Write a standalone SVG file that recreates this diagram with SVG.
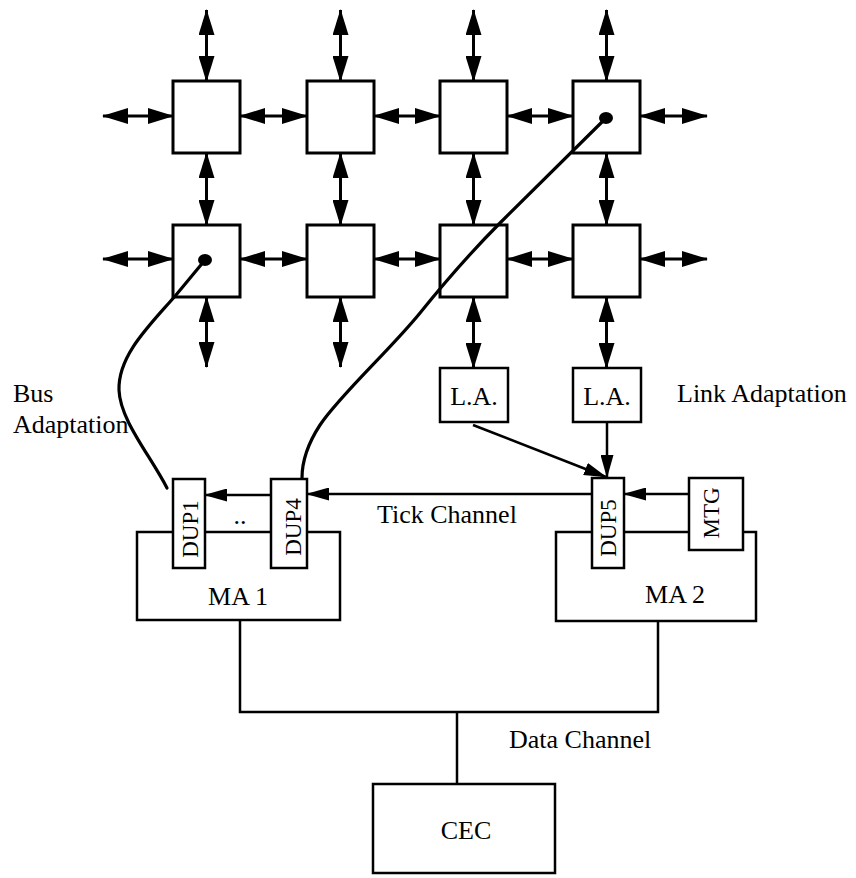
<svg xmlns="http://www.w3.org/2000/svg" width="856" height="878" viewBox="0 0 856 878">
  <style>
    .cell { fill: #fff; stroke: #000; stroke-width: 3; }
    .box { fill: #fff; stroke: #000; stroke-width: 2.5; }
    .link { fill: none; stroke: #000; stroke-width: 3; marker-start: url(#head); marker-end: url(#head); }
    .wire { fill: none; stroke: #000; stroke-width: 2.5; }
    .bus { fill: none; stroke: #000; stroke-width: 3.2; stroke-linecap: round; stroke-linejoin: round; }
    text { font-family: "Liberation Serif", "Times New Roman", serif; fill: #000; }
    .lbl { font-size: 26px; }
    .dup { font-size: 23px; text-anchor: middle; }
    .mid { text-anchor: middle; }
  </style>
  <defs>
    <marker id="head" markerUnits="userSpaceOnUse" markerWidth="26" markerHeight="16" refX="25" refY="8" orient="auto-start-reverse">
      <path d="M0,0 L26,8 L0,16 Z" fill="#000"/>
    </marker>
    <marker id="tip" markerUnits="userSpaceOnUse" markerWidth="23" markerHeight="13" refX="22" refY="6.5" orient="auto">
      <path d="M0,0 L23,6.5 L0,13 Z" fill="#000"/>
    </marker>
  </defs>

  <!-- links of the processor grid -->
  <g id="connectors">
    <!-- vertical links -->
    <line class="link" x1="206.5" y1="10" x2="206.5" y2="81"/>
    <line class="link" x1="340.5" y1="10" x2="340.5" y2="81"/>
    <line class="link" x1="473.5" y1="10" x2="473.5" y2="81"/>
    <line class="link" x1="606.5" y1="10" x2="606.5" y2="81"/>
    <line class="link" x1="206.5" y1="153" x2="206.5" y2="225"/>
    <line class="link" x1="340.5" y1="153" x2="340.5" y2="225"/>
    <line class="link" x1="473.5" y1="153" x2="473.5" y2="225"/>
    <line class="link" x1="606.5" y1="153" x2="606.5" y2="225"/>
    <line class="link" x1="206.5" y1="297" x2="206.5" y2="367"/>
    <line class="link" x1="340.5" y1="297" x2="340.5" y2="367"/>
    <line class="link" x1="473.5" y1="297" x2="473.5" y2="368"/>
    <line class="link" x1="606.5" y1="297" x2="606.5" y2="368"/>
    <!-- horizontal links, row 1 -->
    <line class="link" x1="103" y1="116" x2="173" y2="116"/>
    <line class="link" x1="240" y1="116" x2="307" y2="116"/>
    <line class="link" x1="374" y1="116" x2="440" y2="116"/>
    <line class="link" x1="507" y1="116" x2="573" y2="116"/>
    <line class="link" x1="640" y1="116" x2="707" y2="116"/>
    <!-- horizontal links, row 2 -->
    <line class="link" x1="103" y1="259" x2="173" y2="259"/>
    <line class="link" x1="240" y1="259" x2="307" y2="259"/>
    <line class="link" x1="374" y1="259" x2="440" y2="259"/>
    <line class="link" x1="507" y1="259" x2="573" y2="259"/>
    <line class="link" x1="640" y1="259" x2="707" y2="259"/>

    <!-- link adaptation into DUP5 -->
    <line class="wire" x1="473" y1="425" x2="606" y2="477" stroke-width="3" marker-end="url(#tip)"/>
    <line class="wire" x1="607" y1="422" x2="607" y2="477" stroke-width="3" marker-end="url(#tip)"/>

    <!-- tick channel -->
    <line class="wire" x1="689" y1="494" x2="624" y2="494" marker-end="url(#tip)"/>
    <line class="wire" x1="592" y1="494" x2="307" y2="494" marker-end="url(#tip)"/>
    <line class="wire" x1="271" y1="495" x2="205" y2="495" marker-end="url(#tip)"/>

    <!-- data channel -->
    <polyline class="wire" points="240,620 240,712 658,712 658,621"/>
    <line class="wire" x1="457" y1="712" x2="457" y2="784"/>
  </g>

  <!-- processor grid -->
  <g id="p11"><rect class="cell" x="173" y="81" width="67" height="72"/></g>
  <g id="p12"><rect class="cell" x="307" y="81" width="67" height="72"/></g>
  <g id="p13"><rect class="cell" x="440" y="81" width="67" height="72"/></g>
  <g id="p14"><rect class="cell" x="573" y="81" width="67" height="72"/></g>
  <g id="p21"><rect class="cell" x="173" y="225" width="67" height="72"/></g>
  <g id="p22"><rect class="cell" x="307" y="225" width="67" height="72"/></g>
  <g id="p23"><rect class="cell" x="440" y="225" width="67" height="72"/></g>
  <g id="p24"><rect class="cell" x="573" y="225" width="67" height="72"/></g>

  <!-- link adaptation units -->
  <g id="la1">
    <rect class="box" x="440" y="368" width="68" height="54"/>
    <text class="lbl mid" x="474" y="405">L.A.</text>
  </g>
  <g id="la2">
    <rect class="box" x="573" y="368" width="68" height="54"/>
    <text class="lbl mid" x="607" y="405">L.A.</text>
  </g>

  <!-- bus adaptation cables -->
  <g id="bus-cables">
    <path class="bus" d="M205,260 L176,295 C150,325 118,355 119,390 C120,420 150,455 167,488"/>
    <ellipse cx="205" cy="260" rx="7" ry="6" fill="#000"/>
    <path class="bus" d="M606,118 L500,223 C470,253 445,282 420,313 C390,350 340,395 320,425 C305,448 302,465 302,478"/>
    <ellipse cx="606" cy="118" rx="7" ry="6" fill="#000"/>
  </g>

  <!-- MA 1 with its DUPs -->
  <g id="ma1">
    <rect class="box" x="137" y="532" width="203" height="88"/>
    <text class="lbl mid" x="238" y="605">MA 1</text>
  </g>
  <g id="dup1">
    <rect class="box" x="173" y="479" width="32" height="89"/>
    <text class="dup" transform="translate(198,529) rotate(-90)">DUP1</text>
  </g>
  <g id="dup4">
    <rect class="box" x="271" y="479" width="36" height="89"/>
    <text class="dup" transform="translate(301,527) rotate(-90)">DUP4</text>
  </g>
  <text class="lbl mid" x="240" y="524">..</text>

  <!-- MA 2 with DUP5 and MTG -->
  <g id="ma2">
    <rect class="box" x="556" y="532" width="200" height="89"/>
    <text class="lbl mid" x="675" y="603">MA 2</text>
  </g>
  <g id="dup5">
    <rect class="box" x="592" y="478" width="32" height="90"/>
    <text class="dup" transform="translate(616,528) rotate(-90)">DUP5</text>
  </g>
  <g id="mtg">
    <rect class="box" x="689" y="478" width="54" height="72"/>
    <text class="dup" transform="translate(719,513) rotate(-90)">MTG</text>
  </g>

  <!-- central controller -->
  <g id="cec">
    <rect class="box" x="373" y="784" width="182" height="89"/>
    <text class="lbl mid" x="466" y="839">CEC</text>
  </g>

  <!-- labels -->
  <g id="labels">
    <text class="lbl" x="13" y="402">Bus</text>
    <text class="lbl" x="13" y="433">Adaptation</text>
    <text class="lbl" x="677" y="402">Link Adaptation</text>
    <text class="lbl" x="377" y="523">Tick Channel</text>
    <text class="lbl" x="509" y="748">Data Channel</text>
  </g>
</svg>
